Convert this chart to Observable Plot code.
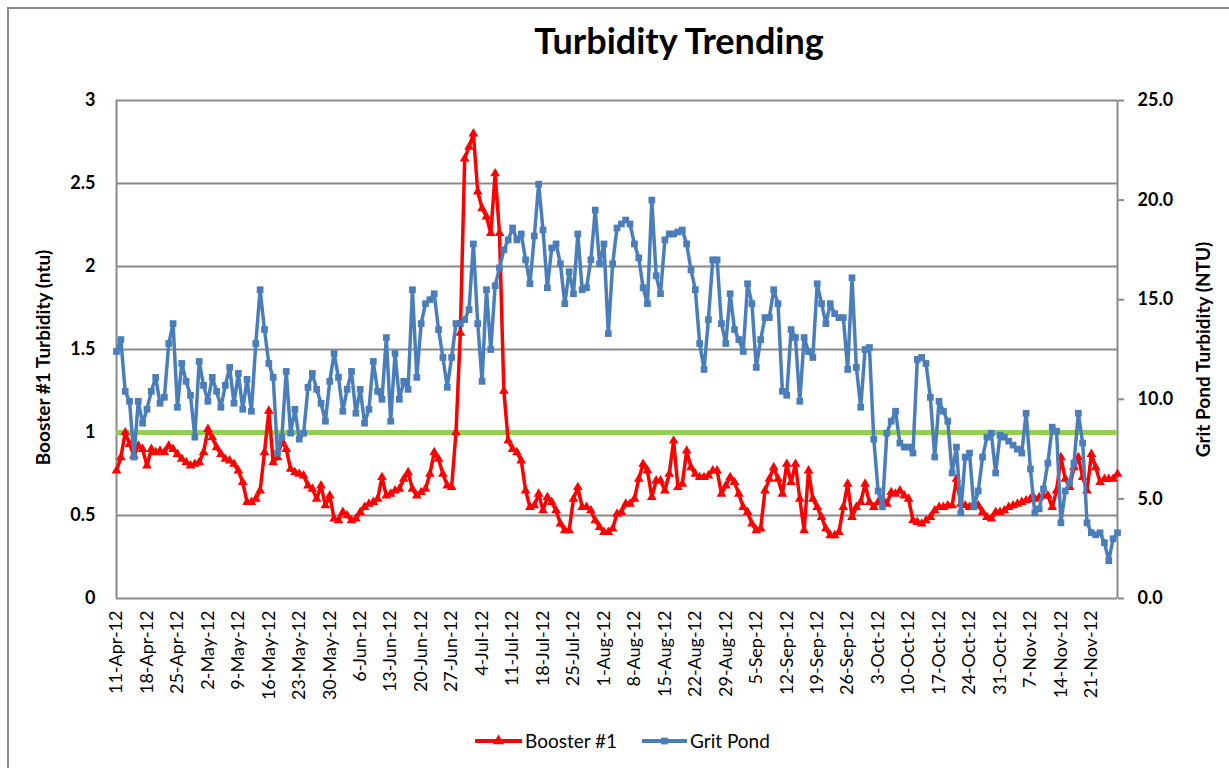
<!DOCTYPE html>
<html>
<head>
<meta charset="utf-8">
<script src="https://cdn.jsdelivr.net/npm/d3@7"></script>
<script src="https://cdn.jsdelivr.net/npm/@observablehq/plot@0.6"></script>
<style>
  html, body { margin: 0; padding: 0; background: #fff; width: 1229px; height: 768px; overflow: hidden; }
  body { position: relative; font-family: Lato, "Open Sans", sans-serif; }
  #border { position: absolute; left: 7px; top: 7px; width: 1300px; height: 900px; border: 2px solid #8a8a8a; box-sizing: border-box; }
  #chart { position: absolute; left: 0; top: 0; }
  #title { position: absolute; top: 22px; left: 679px; transform: translateX(-50%); white-space: nowrap;
           font-size: 36px; font-weight: bold; line-height: 36px; color: #000; }
  #legend { position: absolute; left: 0; top: 726px; }
</style>
</head>
<body>
<div id="border"></div>
<div id="chart"></div>
<div id="title">Turbidity Trending</div>
<svg id="legend" width="1229" height="32"></svg>
<script>
// ---------------- data ----------------
const startDate = "2012-04-11";   // first daily reading; one value per day
const endDate = "2012-11-27";
const boosterNtu = [
  0.77,0.85,1.00,0.93,0.86,0.92,0.90,0.80,0.90,0.88,
  0.89,0.88,0.92,0.90,0.87,0.84,0.82,0.80,0.81,0.82,
  0.88,1.02,0.97,0.91,0.87,0.84,0.83,0.81,0.77,0.70,
  0.58,0.58,0.60,0.65,0.88,1.13,0.82,0.85,0.95,0.90,
  0.78,0.76,0.75,0.74,0.68,0.66,0.60,0.68,0.56,0.62,
  0.48,0.47,0.52,0.50,0.47,0.48,0.52,0.55,0.57,0.58,
  0.60,0.73,0.62,0.63,0.65,0.66,0.72,0.76,0.66,0.62,
  0.64,0.66,0.75,0.88,0.84,0.75,0.68,0.67,1.00,1.60,
  2.65,2.72,2.80,2.45,2.35,2.30,2.20,2.56,2.20,1.25,
  0.95,0.90,0.88,0.83,0.65,0.55,0.56,0.63,0.53,0.61,
  0.58,0.53,0.45,0.41,0.41,0.60,0.67,0.55,0.55,0.53,
  0.47,0.43,0.40,0.40,0.42,0.51,0.52,0.57,0.57,0.60,
  0.72,0.81,0.77,0.61,0.71,0.71,0.65,0.75,0.95,0.67,
  0.69,0.89,0.79,0.75,0.73,0.73,0.74,0.77,0.77,0.63,
  0.68,0.73,0.70,0.63,0.55,0.52,0.45,0.41,0.42,0.65,
  0.72,0.79,0.72,0.63,0.81,0.70,0.81,0.60,0.41,0.77,
  0.60,0.55,0.49,0.42,0.38,0.38,0.40,0.55,0.69,0.49,
  0.55,0.58,0.69,0.58,0.55,0.58,0.60,0.57,0.64,0.63,
  0.65,0.62,0.60,0.47,0.46,0.45,0.47,0.49,0.53,0.55,
  0.55,0.56,0.56,0.72,0.57,0.56,0.55,0.57,0.56,0.52,
  0.49,0.48,0.52,0.52,0.53,0.55,0.56,0.57,0.58,0.59,
  0.60,0.60,0.61,0.62,0.62,0.55,0.65,0.85,0.72,0.67,
  0.79,0.85,0.73,0.65,0.87,0.79,0.70,0.72,0.72,0.72,
  0.75
];
const gritPondNtu = [
  12.4,13.0,10.4,9.9,7.1,9.9,8.8,9.5,10.4,11.1,
  9.8,10.1,12.8,13.8,9.6,11.8,10.9,10.2,8.1,11.9,
  10.7,9.9,11.1,10.4,9.6,10.7,11.6,9.8,11.3,9.5,
  11.0,9.4,12.8,15.5,13.5,11.8,11.1,7.3,8.1,11.4,
  8.3,9.5,8.0,8.3,10.6,11.3,10.5,9.8,8.9,10.9,
  12.3,11.1,9.4,10.5,11.4,9.3,10.5,8.8,9.5,11.9,
  10.4,10.0,13.1,8.9,12.3,10.0,10.9,10.5,15.5,11.1,
  13.8,14.8,15.0,15.3,13.5,12.1,10.6,12.1,13.8,13.8,
  14.0,14.5,17.8,13.8,10.9,15.5,12.5,15.7,16.6,17.5,
  18.0,18.6,18.0,18.3,17.0,15.8,18.2,20.8,18.5,15.6,
  17.6,17.8,16.8,14.8,16.4,15.3,18.3,15.5,15.6,17.0,
  19.5,16.8,17.8,13.3,16.8,18.6,18.8,19.0,18.8,17.8,
  17.1,15.6,14.8,20.0,16.2,15.3,18.0,18.3,18.3,18.4,
  18.5,17.8,16.5,15.5,12.8,11.5,14.0,17.0,17.0,13.8,
  12.8,15.3,13.5,13.0,12.4,15.8,14.8,11.6,13.0,14.1,
  14.1,15.5,14.8,10.4,10.2,13.5,13.1,9.9,13.1,12.4,
  12.1,15.8,14.8,13.8,14.8,14.3,14.1,14.1,11.5,16.1,
  11.6,9.6,12.5,12.6,8.0,5.4,4.6,8.3,8.9,9.4,
  7.8,7.6,7.6,7.3,12.0,12.1,11.8,10.1,7.1,9.9,
  9.4,8.9,6.3,7.6,4.3,7.1,7.3,4.6,5.4,7.1,
  8.1,8.3,6.3,8.2,8.1,7.9,7.7,7.5,7.3,9.3,
  6.5,4.3,4.5,5.5,6.8,8.6,8.4,3.8,5.4,5.8,
  6.8,9.3,7.8,3.8,3.3,3.2,3.3,2.8,1.9,3.0,
  3.3
];
const tickLabels = [
  "11-Apr-12","18-Apr-12","25-Apr-12","2-May-12","9-May-12","16-May-12","23-May-12",
  "30-May-12","6-Jun-12","13-Jun-12","20-Jun-12","27-Jun-12","4-Jul-12","11-Jul-12",
  "18-Jul-12","25-Jul-12","1-Aug-12","8-Aug-12","15-Aug-12","22-Aug-12","29-Aug-12",
  "5-Sep-12","12-Sep-12","19-Sep-12","26-Sep-12","3-Oct-12","10-Oct-12","17-Oct-12",
  "24-Oct-12","31-Oct-12","7-Nov-12","14-Nov-12","21-Nov-12"
];
const leftTicks = [0, 0.5, 1, 1.5, 2, 2.5, 3];
const rightTicks = [0, 5, 10, 15, 20, 25];
const limitNtu = [1];
const seriesNames = ["Booster #1", "Grit Pond"];
const seriesColors = ["#ff0000", "#4a7ebb"];
const leftMax = 3, rightMax = 25;

// ---------------- build ----------------
const parseISO = d3.utcParse("%Y-%m-%d");
const parseTick = d3.utcParse("%-d-%b-%y");
const fmtTick = d3.utcFormat("%-d-%b-%y");
const t0 = parseISO(startDate), t1 = parseISO(endDate);
const k = leftMax / rightMax;

const booster = boosterNtu.map((v, i) => ({date: d3.utcDay.offset(t0, i), v}));
const grit = gritPondNtu.map((v, i) => ({date: d3.utcDay.offset(t0, i), v}));
const tickDates = tickLabels.map(parseTick);

const gray = "#898989";
const font = "Lato, 'Open Sans', sans-serif";
const chart = Plot.plot({
  width: 1229,
  height: 720,
  marginLeft: 116,
  marginRight: 112,
  marginTop: 100,
  marginBottom: 122,
  style: {fontFamily: font, color: "#000", background: "transparent", overflow: "visible"},
  x: {type: "utc", domain: [t0, t1]},
  y: {domain: [0, leftMax]},
  marks: [
    Plot.ruleY(leftTicks, {stroke: gray, strokeWidth: 2}),
    Plot.ruleX([t0, t1], {stroke: gray, strokeWidth: 2}),
    Plot.ruleY(limitNtu, {stroke: "#92d050", strokeWidth: 5}),
    Plot.line(booster, {x: "date", y: "v", stroke: seriesColors[0], strokeWidth: 3.5}),
    Plot.dot(booster, {x: "date", y: "v", symbol: "triangle", r: 3.6, fill: seriesColors[0], stroke: null}),
    Plot.line(grit, {x: "date", y: d => d.v * k, stroke: seriesColors[1], strokeWidth: 3.5}),
    Plot.dot(grit, {x: "date", y: d => d.v * k, symbol: "square", r: 3.8, fill: seriesColors[1], stroke: null}),
    Plot.axisY({anchor: "left", ticks: leftTicks, tickFormat: d => String(d), tickSize: 0, tickPadding: 21,
                fontSize: 18, fontWeight: "bold", label: null}),
    Plot.axisY({anchor: "right", ticks: rightTicks.map(t => t * k), tickFormat: d => (d / k).toFixed(1),
                tickSize: 6, tickPadding: 14, stroke: gray, strokeWidth: 2, fontSize: 18, fontWeight: "bold", label: null}),
    Plot.axisX({ticks: tickDates, tickFormat: fmtTick, tickRotate: -90, tickSize: 0, tickPadding: 12, fontSize: 18, label: null}),
    Plot.text(["Booster #1 Turbidity (ntu)"], {frameAnchor: "left", dx: -73, dy: 8, rotate: -90, textAnchor: "middle",
                fontSize: 19, fontWeight: "bold", fill: "#000"}),
    Plot.text(["Grit Pond Turbidity (NTU)"], {frameAnchor: "right", dx: 86, rotate: -90, textAnchor: "middle",
                fontSize: 19, fontWeight: "bold", fill: "#000"})
  ]
});
document.getElementById("chart").appendChild(chart);

// ---------------- legend ----------------
const lg = d3.select("#legend");
const items = [
  {name: seriesNames[0], color: seriesColors[0], x0: 475, x1: 522, symbol: d3.symbolTriangle, size: 55},
  {name: seriesNames[1], color: seriesColors[1], x0: 642, x1: 687, symbol: d3.symbolSquare, size: 46}
];
const cy = 15;
items.forEach(it => {
  lg.append("line").attr("x1", it.x0).attr("x2", it.x1).attr("y1", cy).attr("y2", cy)
    .attr("stroke", it.color).attr("stroke-width", 4);
  lg.append("path").attr("d", d3.symbol(it.symbol, it.size)())
    .attr("transform", `translate(${(it.x0 + it.x1) / 2},${cy})`).attr("fill", it.color);
  lg.append("text").attr("x", it.x1 + 3).attr("y", cy).attr("dy", "0.35em")
    .attr("font-family", font).attr("font-size", 19).attr("fill", "#000")
    .text(it.name);
});
</script>
</body>
</html>
